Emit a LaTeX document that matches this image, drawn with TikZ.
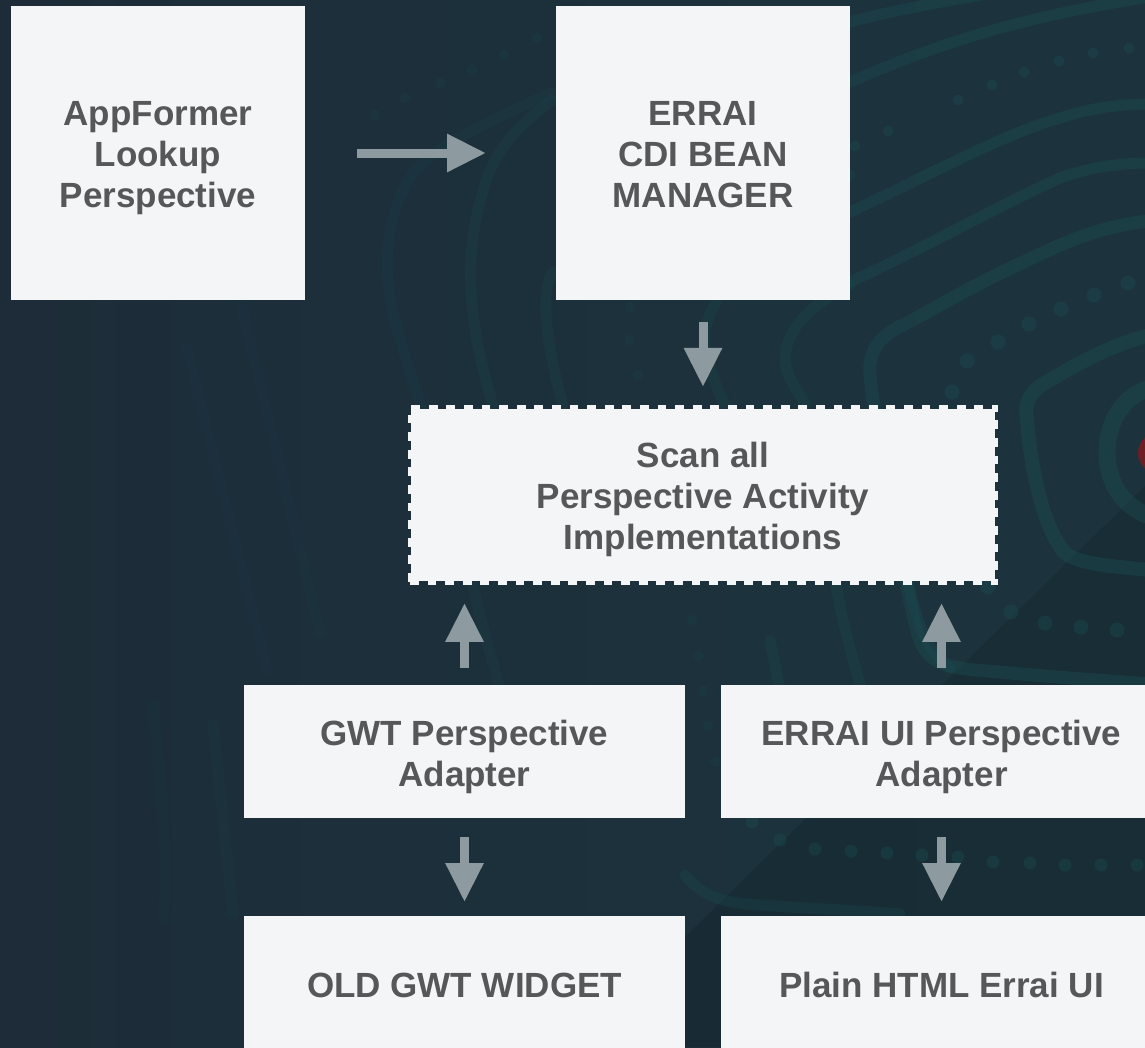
\documentclass[tikz,border=0pt]{standalone}
\usepackage{fontspec}
\setmainfont{Liberation Sans}
\usetikzlibrary{arrows.meta}
\definecolor{boxfill}{HTML}{F4F5F6}
\definecolor{boxtext}{HTML}{555759}
\definecolor{arrowgrey}{HTML}{8D9A9F}
\definecolor{contour}{HTML}{1A4A4E}
\definecolor{blob}{HTML}{6B1E24}
\definecolor{bga}{HTML}{222838}
\definecolor{bgb}{HTML}{202936}
\definecolor{bgc}{HTML}{1E2A35}
\definecolor{bgd}{HTML}{1C2E3A}
\definecolor{bge}{HTML}{1C323C}
\definecolor{bgf}{HTML}{1B3640}
\pgfdeclarehorizontalshading{bgshade}{100bp}{
  color(0bp)=(bga);
  color(4bp)=(bgb);
  color(15bp)=(bgc);
  color(35bp)=(bgd);
  color(60bp)=(bge);
  color(100bp)=(bgf)}
\newcommand{\cl}[1]{\rule{0pt}{27pt}\smash{#1}}
\newcommand{\wl}[1]{\rule{0pt}{29pt}\smash{#1}}
\tikzset{
  box/.style={fill=boxfill,text=boxtext,align=center,inner sep=0pt,outer sep=0pt,
    font=\fontsize{35}{41}\selectfont\bfseries},
  scanbox/.style={box,fill=none,draw=boxfill,line width=4.4pt,dash pattern=on 8.8pt off 8.8pt,
    minimum width=586pt,minimum height=175.5pt},
  square/.style={box,minimum width=294pt,minimum height=294pt},
  wide/.style={box,minimum width=441pt,minimum height=133pt},
  flow/.style={draw=arrowgrey,line width=9pt,-{Triangle[length=39pt,width=36pt]}},
  cline/.style={draw=contour,line width=11pt,line cap=round,line join=round,opacity=0.45},
  faint/.style={cline,opacity=0.18},
  dots/.style={fill=contour,opacity=0.42},
  fdots/.style={fill=contour,opacity=0.2}
}
\begin{document}
\begin{tikzpicture}[x=1pt,y=-1pt]
\useasboundingbox (0,0) rectangle (1145,1047);
\clip (0,0) rectangle (1145,1047);
\shade[shading=bgshade] (0,0) rectangle (1145,1047);
\fill[black,opacity=0.11] (685,937) -- (1145,486) -- (1145,1047) -- (685,1047) -- cycle;
% background contours, right
\draw[cline] (850,22) .. controls (885,12) and (950,0) .. (1000,-8);
\draw[cline] (850,82) .. controls (920,52) and (1000,20) .. (1150,-3);
\draw[cline] (850,212) .. controls (920,180) and (1000,135) .. (1060,118) .. controls (1090,108) and (1120,104) .. (1150,104);
\draw[cline] (850,282) .. controls (920,250) and (1000,205) .. (1060,178) .. controls (1090,167) and (1120,163) .. (1150,163);
\draw[cline,line width=13pt] (1150,221) .. controls (1090,226) and (1040,255) .. (1000,273) .. controls (970,288) and (940,305) .. (907,323) .. controls (880,335) and (868,350) .. (870,375) .. controls (874,420) and (885,455) .. (892,490) .. controls (900,540) and (910,620) .. (922,645) .. controls (935,670) and (965,669) .. (1000,672) .. controls (1050,677) and (1100,680) .. (1150,684);
\draw[cline,line width=14pt] (1150,335) .. controls (1110,345) and (1075,365) .. (1040,386) .. controls (1027,396) and (1025,405) .. (1027,420) .. controls (1030,460) and (1040,520) .. (1063,551) .. controls (1075,564) and (1110,566) .. (1150,570);
\draw[cline,line width=17pt] (1150,388) .. controls (1125,395) and (1107,420) .. (1107,452) .. controls (1107,485) and (1125,508) .. (1150,516);
\fill[blob] (1160,453) ellipse (22 and 21);
% background contours, middle
\draw[faint] (553,92) .. controls (480,125) and (430,150) .. (412,175) .. controls (385,215) and (382,270) .. (394,317) .. controls (405,360) and (415,385) .. (425,420);
\draw[cline,opacity=0.25] (553,100) .. controls (510,130) and (490,160) .. (482,195) .. controls (462,260) and (470,330) .. (493,405);
\draw[cline,opacity=0.25] (553,272) .. controls (540,290) and (545,340) .. (563,405);
\draw[cline,opacity=0.3] (850,175) .. controls (790,210) and (720,270) .. (705,330) .. controls (703,355) and (715,385) .. (725,405);
\draw[cline,opacity=0.33] (850,285) .. controls (810,305) and (785,330) .. (785,360) .. controls (785,375) and (800,395) .. (806,405);
\draw[cline,opacity=0.3] (835,580) .. controls (842,620) and (850,650) .. (862,690);
\draw[cline,opacity=0.42] (908,583) .. controls (915,610) and (922,650) .. (950,668);
\draw[cline,opacity=0.3] (770,640) -- (780,690);
% bottom
\draw[cline,opacity=0.33] (685,875) .. controls (705,900) and (730,903) .. (760,905) .. controls (800,908) and (850,910) .. (900,914);
\draw[faint] (473,585) .. controls (480,620) and (490,650) .. (500,690);
\draw[faint,opacity=0.1] (240,300) -- (320,633);
\draw[faint,opacity=0.1] (187,348) -- (267,671);
\draw[faint,opacity=0.12] (213,724) -- (233,914);
\draw[faint,opacity=0.07] (153,705) .. controls (160,780) and (168,850) .. (163,919);
% dots
\foreach \p in {(958,100),(992,85),(1024,72),(1059,61),(1093,53),(1129,48),(888,131),(855,146)}
  \fill[dots] \p circle (5.5);
\foreach \p in {(952,392),(967,361),(998,342),(1029,324),(1061,309),(1094,295),(1128,283),(988,587),(1011,612),(1045,623),(1081,627),(1117,630)}
  \fill[dots] \p circle (7.5);
\foreach \p in {(752,822),(780,840),(815,849),(851,851),(887,853),(922,855),(958,857),(993,862),(1030,863),(1065,865),(1101,865),(1137,865)}
  \fill[dots] \p circle (6.5);
\foreach \p in {(537,38),(504,55),(472,70),(440,83),(405,98),(375,115),(630,307),(630,340),(638,375),(692,620),(698,656),(703,691),(708,726),(715,762)}
  \fill[fdots] \p circle (5.5);
% diagram
\fill[boxfill] (411,408.5) rectangle (995,581);
\node[square] (app) at (158,153) {\cl{AppFormer}\\Lookup\\\smash{Perspective}};
\node[square] (cdi) at (703,153) {\cl{ERRAI}\\CDI BEAN\\\smash{MANAGER}};
\node[scanbox] (scan) at (703,494.7) {\cl{Scan all}\\Perspective Activity\\\smash{Implementations}};
\node[wide] (gwt) at (464.5,751.5) {\wl{GWT Perspective}\\\smash{Adapter}};
\node[wide] (ui) at (941.5,751.5) {\wl{ERRAI UI Perspective}\\\smash{Adapter}};
\node[wide] (old) at (464.5,982.5) {\wl{OLD GWT WIDGET}};
\node[wide] (html) at (941.5,982.5) {\wl{Plain HTML Errai UI}};
\draw[flow,shorten <=52pt,shorten >=70pt] (app.east) -- (cdi.west);
\draw[flow,shorten <=22pt,shorten >=20pt] (cdi.south) -- (scan.north);
\draw[flow,shorten <=17pt,shorten >=20.5pt] (gwt.north) -- (gwt.north |- scan.south);
\draw[flow,shorten <=17pt,shorten >=20.5pt] (ui.north) -- (ui.north |- scan.south);
\draw[flow,shorten <=19pt,shorten >=14pt] (gwt.south) -- (old.north);
\draw[flow,shorten <=19pt,shorten >=14pt] (ui.south) -- (html.north);
\end{tikzpicture}
\end{document}
